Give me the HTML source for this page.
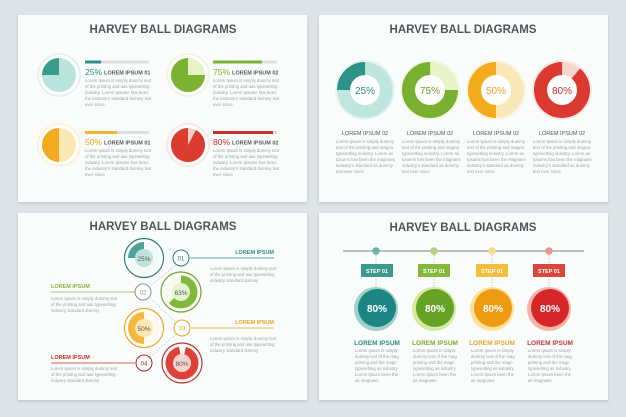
<!DOCTYPE html>
<html><head><meta charset="utf-8"><style>
html,body{margin:0;padding:0;background:#dde3e6;}
svg{display:block;font-family:"Liberation Sans",sans-serif;}
.t{font-weight:bold;fill:#505558;font-size:11.5px;text-anchor:middle;}
.b{font-size:4.3px;fill:#9a9fa3;}
.h{font-size:5.5px;font-weight:bold;fill:#55595c;}
</style></head><body>
<svg width="626" height="417" viewBox="0 0 626 417">
<defs>
<filter id="sh" x="-5%" y="-5%" width="110%" height="115%"><feDropShadow dx="0" dy="1.5" stdDeviation="1.5" flood-color="#7f8a90" flood-opacity="0.35"/></filter>
</defs>
<rect width="626" height="417" fill="#dde3e6"/>
<rect x="18" y="15" width="289" height="187" fill="#fafbfb" filter="url(#sh)"/>
<rect x="319" y="15" width="289" height="187" fill="#fafbfb" filter="url(#sh)"/>
<rect x="18" y="213" width="289" height="187" fill="#fafbfb" filter="url(#sh)"/>
<rect x="319" y="213" width="289" height="187" fill="#fafbfb" filter="url(#sh)"/>

<!-- TL -->
<text class="t" x="163" y="33">HARVEY BALL DIAGRAMS</text>
<g>
<circle cx="59" cy="75" r="21" fill="#fff" stroke="#e3f2ef" stroke-width="2"/>
<circle cx="59" cy="75" r="17" fill="#b9e4dc"/>
<path d="M59,75 L59,58 A17,17 0 0 0 42,75 Z" fill="#3a9a8c"/>
<rect x="85" y="60.5" width="64" height="3" fill="#dcdfe0"/><rect x="85" y="60.5" width="16" height="3" fill="#2d8f86"/>
<text x="85" y="75" font-size="8.5" fill="#2d8f86">25%</text><text class="h" x="104" y="74.5">LOREM IPSUM 01</text>
<text class="b" x="85" y="82">Lorem Ipsum is simply dummy text</text><text class="b" x="85" y="88">of the printing and aas typesetting</text><text class="b" x="85" y="94">industry. Lorem Ipsume has been</text><text class="b" x="85" y="100">the industry's standard dummy text</text><text class="b" x="85" y="106">ever since</text>

<circle cx="188" cy="75" r="21" fill="#fff" stroke="#f0f6e0" stroke-width="2"/>
<circle cx="188" cy="75" r="17" fill="#e5f3c6"/>
<path d="M188,75 L205,75 A17,17 0 1 1 188,58 Z" fill="#7cb232"/>
<rect x="213" y="60.5" width="64" height="3" fill="#dcdfe0"/><rect x="213" y="60.5" width="49" height="3" fill="#7cb232"/>
<text x="213" y="75" font-size="8.5" fill="#7cb232">75%</text><text class="h" x="232" y="74.5">LOREM IPSUM 02</text>
<text class="b" x="213" y="82">Lorem Ipsum is simply dummy text</text><text class="b" x="213" y="88">of the printing and aas typesetting</text><text class="b" x="213" y="94">industry. Lorem Ipsume has been</text><text class="b" x="213" y="100">the industry's standard dummy text</text><text class="b" x="213" y="106">ever since</text>

<circle cx="59" cy="145" r="21" fill="#fff" stroke="#fdf2d8" stroke-width="2"/>
<circle cx="59" cy="145" r="17" fill="#fbe7b3"/>
<path d="M59,128 A17,17 0 0 0 59,162 Z" fill="#f2aa1e"/>
<rect x="85" y="131" width="64" height="3" fill="#dcdfe0"/><rect x="85" y="131" width="32" height="3" fill="#efb530"/>
<text x="85" y="145" font-size="8.5" fill="#eea51c">50%</text><text class="h" x="104" y="144.5">LOREM IPSUM 01</text>
<text class="b" x="85" y="152">Lorem Ipsum is simply dummy text</text><text class="b" x="85" y="158">of the printing and aas typesetting</text><text class="b" x="85" y="164">industry. Lorem Ipsume has been</text><text class="b" x="85" y="170">the industry's standard dummy text</text><text class="b" x="85" y="176">ever since</text>

<circle cx="188" cy="145" r="21" fill="#fff" stroke="#fbe6e3" stroke-width="2"/>
<circle cx="188" cy="145" r="17" fill="#f8d0c8"/>
<path d="M188,145 L196,130 A17,17 0 1 1 188,128 Z" fill="#dc3b30"/>
<rect x="213" y="131" width="64" height="3" fill="#f0d6d3"/><rect x="213" y="131" width="60" height="3" fill="#c8302a"/>
<text x="213" y="145" font-size="8.5" fill="#c8302a">80%</text><text class="h" x="232" y="144.5">LOREM IPSUM 02</text>
<text class="b" x="213" y="152">Lorem Ipsum is simply dummy text</text><text class="b" x="213" y="158">of the printing and aas typesetting</text><text class="b" x="213" y="164">industry. Lorem Ipsume has been</text><text class="b" x="213" y="170">the industry's standard dummy text</text><text class="b" x="213" y="176">ever since</text>
</g>

<!-- TR -->
<text class="t" x="463" y="33">HARVEY BALL DIAGRAMS</text>
<g>
<circle cx="365" cy="90" r="29" fill="#fff" stroke="#d6efe9" stroke-width="1"/>
<circle cx="365" cy="90" r="21.5" fill="none" stroke="#bfe6de" stroke-width="13"/>
<circle cx="365" cy="90" r="21.5" fill="none" stroke="#2f9287" stroke-width="13" stroke-dasharray="33.8 200" transform="rotate(180 365 90)"/>
<text x="365" y="94" font-size="10" fill="#2f8a82" text-anchor="middle">25%</text>

<circle cx="430" cy="90" r="29" fill="#fff" stroke="#eaf4d4" stroke-width="1"/>
<circle cx="430" cy="90" r="21.5" fill="none" stroke="#e6f4c8" stroke-width="13"/>
<circle cx="430" cy="90" r="21.5" fill="none" stroke="#79b02f" stroke-width="13" stroke-dasharray="101.3 200" transform="rotate(0 430 90)"/>
<text x="430" y="94" font-size="10" fill="#6e9d2c" text-anchor="middle">75%</text>

<circle cx="496" cy="90" r="29" fill="#fff" stroke="#fbefcf" stroke-width="1"/>
<circle cx="496" cy="90" r="21.5" fill="none" stroke="#fbe8b8" stroke-width="13"/>
<circle cx="496" cy="90" r="21.5" fill="none" stroke="#f3aa1c" stroke-width="13" stroke-dasharray="67.5 200" transform="rotate(90 496 90)"/>
<text x="496" y="94" font-size="10" fill="#e9a22a" text-anchor="middle">50%</text>

<circle cx="562" cy="90" r="29" fill="#fff" stroke="#fadcd6" stroke-width="1"/>
<circle cx="562" cy="90" r="21.5" fill="none" stroke="#f8d6d0" stroke-width="13"/>
<circle cx="562" cy="90" r="21.5" fill="none" stroke="#dc3a30" stroke-width="13" stroke-dasharray="120 200" transform="rotate(-50 562 90)"/>
<text x="562" y="94" font-size="10" fill="#b8302b" text-anchor="middle">80%</text>

<g font-size="5.5" fill="#55595c" text-anchor="middle"><text x="365" y="135">LOREM IPSUM 02</text><text x="430" y="135">LOREM IPSUM 02</text><text x="496" y="135">LOREM IPSUM 02</text><text x="562" y="135">LOREM IPSUM 02</text></g>
<g class="b">
<text x="336" y="143">Lorem Ipsum is simply dummy</text><text x="336" y="149">text of the printing and magna</text><text x="336" y="155">typesetting industry. Lorem as</text><text x="336" y="161">Ipsums has been the magnaes</text><text x="336" y="167">industry's standard as dummy</text><text x="336" y="173">text ever since</text>
<text x="402" y="143">Lorem Ipsum is simply dummy</text><text x="402" y="149">text of the printing and magna</text><text x="402" y="155">typesetting industry. Lorem as</text><text x="402" y="161">Ipsums has been the magnaes</text><text x="402" y="167">industry's standard as dummy</text><text x="402" y="173">text ever since</text>
<text x="467" y="143">Lorem Ipsum is simply dummy</text><text x="467" y="149">text of the printing and magna</text><text x="467" y="155">typesetting industry. Lorem as</text><text x="467" y="161">Ipsums has been the magnaes</text><text x="467" y="167">industry's standard as dummy</text><text x="467" y="173">text ever since</text>
<text x="533" y="143">Lorem Ipsum is simply dummy</text><text x="533" y="149">text of the printing and magna</text><text x="533" y="155">typesetting industry. Lorem as</text><text x="533" y="161">Ipsums has been the magnaes</text><text x="533" y="167">industry's standard as dummy</text><text x="533" y="173">text ever since</text>
</g>
</g>

<!-- BL -->
<text class="t" x="163" y="230">HARVEY BALL DIAGRAMS</text>
<g fill="none" stroke="#b5bcc0" stroke-width="0.6" stroke-dasharray="1.5 1.5">
<line x1="176" y1="265" x2="150" y2="286"/><line x1="150" y1="298" x2="176" y2="322"/><line x1="176" y1="334" x2="150" y2="357"/>
</g>
<line x1="190" y1="258" x2="274" y2="258" stroke="#2d8f86" stroke-width="0.8"/>
<line x1="51" y1="292" x2="135" y2="292" stroke="#8ab443" stroke-width="0.8"/>
<line x1="191" y1="328" x2="274" y2="328" stroke="#e9a526" stroke-width="0.8"/>
<line x1="51" y1="363" x2="135" y2="363" stroke="#c8302a" stroke-width="0.8"/>
<circle cx="144" cy="258" r="19.5" fill="#fff" stroke="#2a7f7b" stroke-width="1.2"/>
<circle cx="144" cy="258" r="16" fill="#f3faf8"/>
<path d="M144,258 L144,242 A16,16 0 0 0 128,258 Z" fill="#4aa395"/>
<circle cx="144" cy="258" r="9" fill="#bfe3db"/>
<text x="144" y="261" font-size="6.5" fill="#555" text-anchor="middle">25%</text>
<circle cx="181" cy="292" r="20" fill="#fff" stroke="#6fa82a" stroke-width="1.2"/>
<circle cx="181" cy="292" r="16.5" fill="#f6fbee"/>
<circle cx="181" cy="292" r="12.5" fill="none" stroke="#80b83a" stroke-width="8" stroke-dasharray="49.5 100" transform="rotate(-90 181 292)"/>
<circle cx="181" cy="292" r="9" fill="#e3f1cc"/>
<text x="181" y="295" font-size="6.5" fill="#555" text-anchor="middle">63%</text>
<circle cx="144" cy="328" r="19.5" fill="#fff" stroke="#e9a526" stroke-width="1.2"/>
<circle cx="144" cy="328" r="16" fill="#fffaf0"/>
<path d="M144,312 A16,16 0 0 0 144,344 Z" fill="#f4b73a"/>
<circle cx="144" cy="328" r="9" fill="#fbe6b4"/>
<text x="144" y="331" font-size="6.5" fill="#555" text-anchor="middle">50%</text>
<circle cx="182" cy="363" r="20" fill="#fff" stroke="#c8302a" stroke-width="1.2"/>
<circle cx="182" cy="363" r="16.5" fill="#fff"/>
<path d="M182,363 L186,347 A16.5,16.5 0 1 1 179,346.8 Z" fill="#dc4036"/>
<circle cx="182" cy="363" r="9" fill="#f8d4cc"/>
<text x="182" y="366" font-size="6.5" fill="#555" text-anchor="middle">80%</text>
<g font-size="6" text-anchor="middle" fill="#fff" stroke-width="1">
<circle cx="181" cy="258" r="8" fill="#fff" stroke="#2a7f7b"/><text x="181" y="260.5" fill="#2a7f7b" stroke="none">01</text>
<circle cx="143" cy="292" r="8" fill="#fff" stroke="#8b8f93"/><text x="143" y="294.5" fill="#8b8f93" stroke="none">02</text>
<circle cx="182" cy="328" r="8" fill="#fff" stroke="#e9a526"/><text x="182" y="330.5" fill="#e9a526" stroke="none">03</text>
<circle cx="144" cy="363" r="8" fill="#fff" stroke="#a0282a"/><text x="144" y="365.5" fill="#a0282a" stroke="none">04</text>
</g>
<g font-size="5.5" font-weight="bold">
<text x="274" y="254" text-anchor="end" fill="#2d8f86">LOREM IPSUM</text>
<text x="51" y="288" fill="#8ab443">LOREM IPSUM</text>
<text x="274" y="324" text-anchor="end" fill="#e9a526">LOREM IPSUM</text>
<text x="51" y="359" fill="#c8302a">LOREM IPSUM</text>
</g>
<g class="b">
<text x="210" y="270">Lorem Ipsum is simply dummy text</text><text x="210" y="276">of the printing and aas typesetting</text><text x="210" y="282">industry standard dummy</text>
<text x="51" y="300">Lorem Ipsum is simply dummy text</text><text x="51" y="306">of the printing and aas typesetting</text><text x="51" y="312">industry standard dummy</text>
<text x="210" y="340">Lorem Ipsum is simply dummy text</text><text x="210" y="346">of the printing and aas typesetting</text><text x="210" y="352">industry standard dummy</text>
<text x="51" y="370">Lorem Ipsum is simply dummy text</text><text x="51" y="376">of the printing and aas typesetting</text><text x="51" y="382">industry standard dummy</text>
</g>

<!-- BR -->
<text class="t" x="463" y="231">HARVEY BALL DIAGRAMS</text>
<line x1="343" y1="251" x2="584" y2="251" stroke="#7b8084" stroke-width="1"/>
<g stroke="#9aa0a4" stroke-width="0.6" stroke-dasharray="1.5 1.5">
<line x1="376" y1="255" x2="376" y2="288"/><line x1="434" y1="255" x2="434" y2="288"/><line x1="492" y1="255" x2="492" y2="288"/><line x1="549" y1="255" x2="549" y2="288"/>
</g>
<circle cx="376" cy="251" r="3.8" fill="#6fb3a4"/><circle cx="434" cy="251" r="3.8" fill="#b6d27f"/><circle cx="492" cy="251" r="3.8" fill="#f6dc7e"/><circle cx="549" cy="251" r="3.8" fill="#e9998a"/>
<rect x="361" y="264" width="32" height="13" fill="#3b9a8c"/>
<rect x="418" y="264" width="32" height="13" fill="#86b83c"/>
<rect x="476" y="264" width="32" height="13" fill="#f2be3c"/>
<rect x="533" y="264" width="32" height="13" fill="#d8483c"/>
<g font-size="5.5" font-weight="bold" fill="#fff" text-anchor="middle">
<text x="377" y="273">STEP 01</text><text x="434" y="273">STEP 01</text><text x="492" y="273">STEP 01</text><text x="549" y="273">STEP 01</text>
</g>
<circle cx="376" cy="309" r="22" fill="#9ed3c8"/><circle cx="377" cy="308" r="19" fill="#1e8585"/>
<circle cx="434" cy="309" r="22" fill="#d5ea9e"/><circle cx="435" cy="308" r="19" fill="#66a225"/>
<circle cx="492" cy="309" r="22" fill="#fbe29a"/><circle cx="493" cy="308" r="19" fill="#ef9b12"/>
<circle cx="549" cy="309" r="22" fill="#f6b4a8"/><circle cx="550" cy="308" r="19" fill="#d7262a"/>
<g font-size="10" font-weight="bold" fill="#fff" text-anchor="middle">
<text x="377" y="312">80%</text><text x="435" y="312">80%</text><text x="493" y="312">80%</text><text x="550" y="312">80%</text>
</g>
<g font-size="6.5" font-weight="bold" text-anchor="middle">
<text x="377" y="345" fill="#2b8a84">LOREM IPSUM</text><text x="435" y="345" fill="#7aab32">LOREM IPSUM</text><text x="492" y="345" fill="#eaa43a">LOREM IPSUM</text><text x="550" y="345" fill="#b83a36">LOREM IPSUM</text>
</g>
<g class="b">
<text x="355" y="352">Lorem Ipsum is simply</text><text x="355" y="358">dummy text of the mag</text><text x="355" y="364">printing and the magn</text><text x="355" y="370">typesetting as industry</text><text x="355" y="376">Lorem Ipsum been the</text><text x="355" y="382">as magnaes</text>
<text x="413" y="352">Lorem Ipsum is simply</text><text x="413" y="358">dummy text of the mag</text><text x="413" y="364">printing and the magn</text><text x="413" y="370">typesetting as industry</text><text x="413" y="376">Lorem Ipsum been the</text><text x="413" y="382">as magnaes</text>
<text x="471" y="352">Lorem Ipsum is simply</text><text x="471" y="358">dummy text of the mag</text><text x="471" y="364">printing and the magn</text><text x="471" y="370">typesetting as industry</text><text x="471" y="376">Lorem Ipsum been the</text><text x="471" y="382">as magnaes</text>
<text x="528" y="352">Lorem Ipsum is simply</text><text x="528" y="358">dummy text of the mag</text><text x="528" y="364">printing and the magn</text><text x="528" y="370">typesetting as industry</text><text x="528" y="376">Lorem Ipsum been the</text><text x="528" y="382">as magnaes</text>
</g>
</svg>
</body></html>
